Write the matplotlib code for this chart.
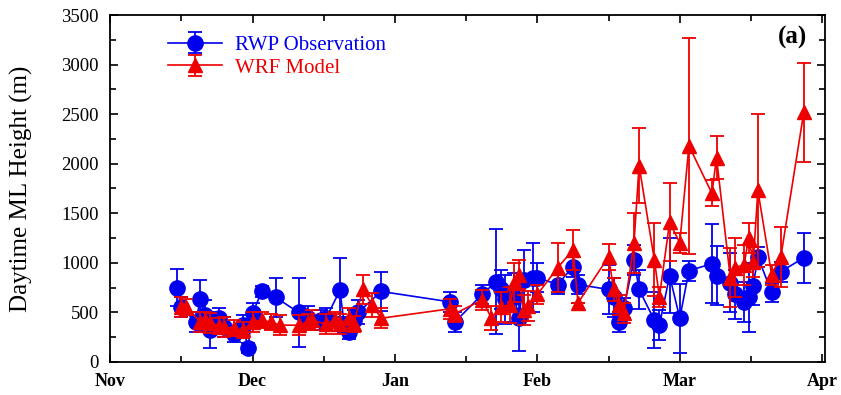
import matplotlib
matplotlib.use('Agg')
import matplotlib.pyplot as plt
from matplotlib.ticker import MultipleLocator
import pandas as pd
import numpy as np

plt.rcParams['font.family'] = ['Liberation Serif', 'DejaVu Serif']

# RWP observation (date, height, error)
rwp_dates = ['2016-11-15', '2016-11-16', '2016-11-19', '2016-11-20', '2016-11-21', '2016-11-22',
             '2016-11-24', '2016-11-25', '2016-11-27', '2016-11-29', '2016-11-30', '2016-12-01',
             '2016-12-03', '2016-12-06', '2016-12-11', '2016-12-13', '2016-12-16', '2016-12-17',
             '2016-12-20', '2016-12-21', '2016-12-22', '2016-12-23', '2016-12-24', '2016-12-29',
             '2017-01-13', '2017-01-14', '2017-01-20', '2017-01-23', '2017-01-24', '2017-01-25',
             '2017-01-27', '2017-01-28', '2017-01-29', '2017-01-31', '2017-02-01', '2017-02-05',
             '2017-02-08', '2017-02-09', '2017-02-15', '2017-02-16', '2017-02-17', '2017-02-18',
             '2017-02-20', '2017-02-21', '2017-02-24', '2017-02-25', '2017-02-27', '2017-03-01',
             '2017-03-03', '2017-03-08', '2017-03-09', '2017-03-12', '2017-03-13', '2017-03-15',
             '2017-03-16', '2017-03-17', '2017-03-18', '2017-03-21', '2017-03-23', '2017-03-28']
rwp_height = [750, 555, 400, 630, 470, 320, 440, 350, 280, 370, 140, 490,
              710, 650, 500, 440, 420, 440, 720, 370, 300, 420, 500, 710,
              605, 400, 680, 810, 730, 630, 650, 440, 830, 850, 850, 780,
              960, 780, 730, 650, 400, 545, 1030, 730, 420, 370, 870, 440,
              920, 990, 870, 800, 680, 605, 650, 770, 1060, 700, 910, 1050]
rwp_err = [190, 100, 100, 200, 150, 180, 100, 100, 80, 100, 50, 100,
           60, 200, 350, 120, 100, 100, 330, 80, 70, 100, 120, 200,
           100, 100, 100, 530, 200, 250, 250, 330, 300, 350, 150, 100,
           100, 100, 250, 200, 100, 100, 150, 200, 280, 150, 380, 350,
           100, 400, 300, 300, 250, 200, 350, 200, 100, 100, 100, 250]

# WRF model (date, height, error)
wrf_dates = ['2016-11-16', '2016-11-17', '2016-11-20', '2016-11-21', '2016-11-22', '2016-11-24',
             '2016-11-25', '2016-11-27', '2016-11-29', '2016-12-01', '2016-12-03', '2016-12-05',
             '2016-12-07', '2016-12-11', '2016-12-13', '2016-12-14', '2016-12-17', '2016-12-19',
             '2016-12-20', '2016-12-22', '2016-12-23', '2016-12-25', '2016-12-27', '2016-12-29',
             '2017-01-13', '2017-01-14', '2017-01-20', '2017-01-22', '2017-01-24', '2017-01-26',
             '2017-01-27', '2017-01-28', '2017-01-29', '2017-01-30', '2017-02-01', '2017-02-05',
             '2017-02-08', '2017-02-09', '2017-02-15', '2017-02-16', '2017-02-17', '2017-02-18',
             '2017-02-20', '2017-02-21', '2017-02-24', '2017-02-25', '2017-02-27', '2017-03-01',
             '2017-03-03', '2017-03-08', '2017-03-09', '2017-03-12', '2017-03-13', '2017-03-15',
             '2017-03-16', '2017-03-17', '2017-03-18', '2017-03-21', '2017-03-23', '2017-03-28']
wrf_height = [555, 555, 400, 420, 395, 360, 350, 340, 320, 400, 420, 400,
              370, 370, 400, 420, 380, 420, 380, 440, 380, 730, 575, 440,
              535, 485, 625, 440, 555, 575, 800, 880, 525, 565, 680, 950,
              1130, 595, 1060, 730, 575, 495, 1200, 1980, 1030, 655, 1410, 1200,
              2180, 1700, 2060, 850, 950, 980, 1250, 1010, 1730, 880, 1060, 2520]
wrf_err = [100, 80, 100, 80, 100, 80, 100, 80, 80, 100, 80, 80,
           100, 100, 80, 100, 100, 80, 100, 100, 80, 150, 120, 100,
           100, 80, 100, 120, 150, 180, 200, 150, 150, 150, 100, 250,
           200, 0, 130, 120, 100, 100, 300, 380, 370, 100, 390, 100,
           1090, 130, 220, 300, 300, 200, 150, 150, 770, 100, 300, 500]

month_labels = ['Nov', 'Dec', 'Jan', 'Feb', 'Mar', 'Apr']


def month_pos(dates):
    d = pd.to_datetime(pd.Series(dates))
    start = pd.Timestamp('2016-11-01')
    months = (d.dt.year - start.year) * 12 + d.dt.month - start.month
    return (months + (d.dt.day - 1) / d.dt.days_in_month).to_numpy()


x_rwp = month_pos(rwp_dates)
x_wrf = month_pos(wrf_dates)

fig = plt.figure(figsize=(8.41, 3.95), dpi=100)
ax = fig.add_axes([0.131, 0.084, 0.850, 0.878])

ax.errorbar(x_rwp, rwp_height, yerr=rwp_err, color='#0000ee', marker='o', markersize=11,
            lw=1.2, elinewidth=1.3, capsize=5, capthick=1.3, label='RWP Observation', zorder=2)
ax.errorbar(x_wrf, wrf_height, yerr=wrf_err, color='#ee0000', marker='^', markersize=10,
            lw=1.2, elinewidth=1.3, capsize=5, capthick=1.3, label='WRF Model', zorder=3)

ax.set_xlim(0, 5.02)
ax.set_ylim(0, 3500)
ax.set_xticks(range(len(month_labels)))
ax.set_xticklabels(month_labels, fontweight='bold', fontsize=13)
ax.xaxis.set_minor_locator(MultipleLocator(0.5))
ax.yaxis.set_major_locator(MultipleLocator(500))
ax.yaxis.set_minor_locator(MultipleLocator(250))
ax.tick_params(which='both', direction='in', top=True, right=True)
ax.tick_params(axis='y', labelsize=13.5, pad=8)
ax.tick_params(which='major', length=6, width=1.2)
ax.tick_params(which='minor', length=4, width=1.2)
ax.tick_params(axis='x', pad=8)
for s in ax.spines.values():
    s.set_linewidth(1.3)

ax.set_ylabel('Daytime ML Height (m)', fontsize=18)
ax.yaxis.set_label_coords(-0.108, 0.5)
ax.text(0.975, 0.935, '(a)', transform=ax.transAxes, ha='right', va='center',
        fontsize=18, fontweight='bold')

leg = ax.legend(loc='upper left', bbox_to_anchor=(0.055, 0.995), frameon=False,
                fontsize=15, handlelength=2.6, labelspacing=0.15, handletextpad=0.6)
for txt, c in zip(leg.get_texts(), ['#0000ee', '#ee0000']):
    txt.set_color(c)

fig.savefig('out.png', dpi=100)
